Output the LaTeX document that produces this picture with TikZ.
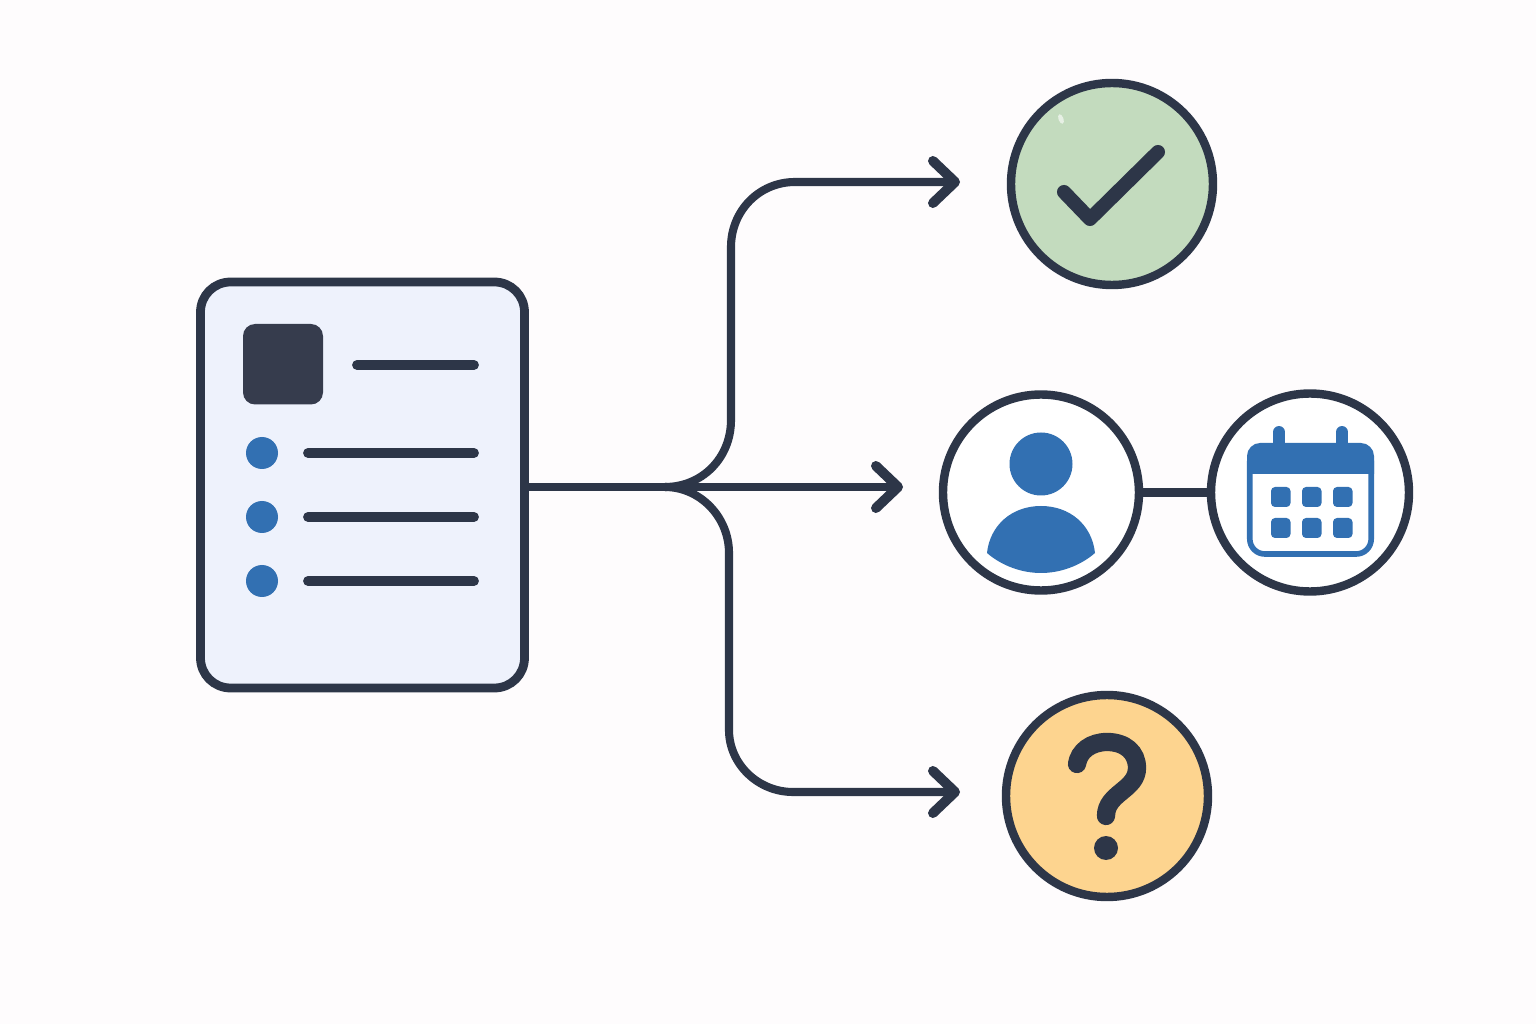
\documentclass[tikz,border=0pt]{standalone}
\usepackage{xcolor}
\usetikzlibrary{arrows.meta}

\definecolor{inkdark}{HTML}{2D3648}
\definecolor{squaredark}{HTML}{363C4D}
\definecolor{iconblue}{HTML}{3270B2}
\definecolor{docfill}{HTML}{EEF2FC}
\definecolor{okgreen}{HTML}{C3DBBE}
\definecolor{askorange}{HTML}{FDD48F}
\definecolor{pagebg}{HTML}{FEFCFD}

\tikzset{
  >={Straight Barb[length=6.3pt,width=12pt,line width=2.8pt,line cap=round,round]},
  flow/.style={draw=inkdark,line width=2.3pt},
  ring/.style={circle,draw=inkdark,line width=2.4pt,outer sep=0pt,inner sep=0pt},
  textline/.style={inkdark,line width=2.8pt,line cap=round},
}

\begin{document}
\begin{tikzpicture}[x=0.1mm,y=-0.1mm]

\fill[pagebg] (0,0) rectangle (1536,1024);
\useasboundingbox (0,0) rectangle (1536,1024);

% Document card
\node[draw=inkdark,fill=docfill,line width=2.5pt,rounded corners=3mm,
  minimum width=32.4mm,minimum height=40.6mm,outer sep=0pt,inner sep=0pt] (doc) at (362.5,485) {};
\fill[squaredark,rounded corners=1.2mm] (243,324) rectangle (323,404.5);
\draw[textline] (357,365) -- (474,365);
\foreach \y in {453,517,581} {
  \fill[iconblue] (262,\y) circle (16);
  \draw[textline] (308,\y) -- (474,\y);
}

% Outcome circles
\node[ring,fill=okgreen,minimum size=20.2mm] (check) at (1112,184) {};
\node[ring,fill=white,minimum size=19.6mm] (person) at (1041,492.5) {};
\node[ring,fill=white,minimum size=19.8mm] (calendar) at (1310,492.5) {};
\node[ring,fill=askorange,minimum size=20.2mm] (ask) at (1107,796) {};

% Branching connectors
\coordinate (fork) at (665,487);
\coordinate (topend) at (960,182);
\coordinate (midend) at (903,487);
\coordinate (lowend) at (960,792);
\draw[flow] (doc.east |- fork) -- (fork);
\draw[flow,->] (fork) -- (midend);
\draw[flow,->] (fork) .. controls (702,487) and (731,458) .. (731,420)
  -- (731,247) .. controls (731,211) and (759,182) .. (795,182) -- (topend);
\draw[flow,->] (fork) .. controls (700,487) and (729,517) .. (729,553)
  -- (729,730) .. controls (729,764) and (758,792) .. (793,792) -- (lowend);
\draw[flow] (person) -- (calendar);

% Check mark
\fill[white,opacity=0.6,rotate around={20:(1061,119)}] (1061,119) ellipse (2.5 and 5);
\draw[inkdark,line width=4pt,line cap=round,line join=round]
  (1064,192) -- (1090,219) -- (1158,152);

% Person icon
\fill[iconblue] (1041,464) circle (31.5);
\fill[iconblue] (987,553) .. controls (990,525) and (1012,506) .. (1041,506)
  .. controls (1070,506) and (1092,525) .. (1095,553)
  .. controls (1080,566) and (1060,573) .. (1041,573)
  .. controls (1022,573) and (1002,566) .. (987,553);

% Calendar icon
\foreach \x in {1279,1342} {
  \draw[iconblue,line width=3.4pt,line cap=round] (\x,432) -- (\x,450);
}
\draw[iconblue,line width=1.6pt,fill=white,rounded corners=1.5mm]
  (1249.8,446) rectangle (1371.2,554);
\fill[iconblue] (1247,474) -- (1247,456) .. controls (1247,449) and (1253,443) .. (1260,443)
  -- (1361,443) .. controls (1368,443) and (1374,449) .. (1374,456) -- (1374,474) -- cycle;
\foreach \x in {1271,1302,1333} {
  \foreach \y in {487,518} {
    \fill[iconblue,rounded corners=0.4mm] (\x,\y) rectangle ++(19.5,20);
  }
}

% Question mark
\draw[inkdark,line width=5.2pt,line cap=round]
  (1077,764) .. controls (1079,751) and (1091,742) .. (1107,742)
  .. controls (1125,742) and (1137,752) .. (1137,768)
  .. controls (1137,790) and (1106,793) .. (1106,816);
\fill[inkdark] (1106,848) circle (12);

\end{tikzpicture}
\end{document}
